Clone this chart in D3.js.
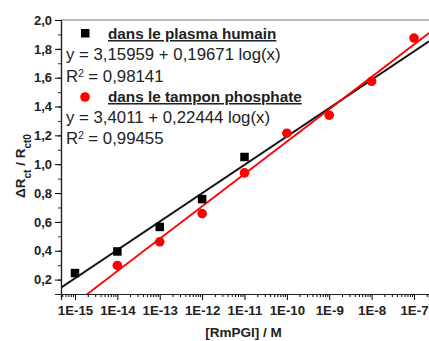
<!DOCTYPE html>
<html><head><meta charset="utf-8">
<script src="https://cdn.jsdelivr.net/npm/d3@7"></script>
<style>
html,body{margin:0;padding:0;background:#fff;overflow:hidden}
text{font-family:Arial,"Liberation Sans",sans-serif}
</style></head>
<body><svg id="c" width="429" height="341"></svg>
<script>
const concentrations = [1e-15,1e-14,1e-13,1e-12,1e-11,1e-10,1e-9,1e-8,1e-7];
const plasmaConc = [1e-15,1e-14,1e-13,1e-12,1e-11];
const plasmaValues = [0.245,0.395,0.565,0.758,1.05];
const phosphateConc = [1e-14,1e-13,1e-12,1e-11,1e-10,1e-9,1e-8,1e-7];
const phosphateValues = [0.298,0.462,0.658,0.94,1.215,1.34,1.575,1.875];
const plasmaFit = {a:3.15959, b:0.19671};
const phosphateFit = {a:3.4011, b:0.22444};
const yTicks = [0.2,0.4,0.6,0.8,1.0,1.2,1.4,1.6,1.8,2.0];
const xTickLabels = ["1E-15","1E-14","1E-13","1E-12","1E-11","1E-10","1E-9","1E-8","1E-7"];
const legendLabels = ["dans le plasma humain","y = 3,15959 + 0,19671 log(x)","0,98141",
                      "dans le tampon phosphate","y = 3,4011 + 0,22444 log(x)","0,99455"];

const svg = d3.select("#c");
const L=61, R=429, T=20, B=294;
const x = d3.scaleLog().domain([Math.pow(10,-15.33), Math.pow(10,-6.646)]).range([L,R]);
const y = d3.scaleLinear().domain([0.1,2.0]).range([B,T]);

svg.append("clipPath").attr("id","pc").append("rect")
  .attr("x",L).attr("y",T).attr("width",R-L).attr("height",B-T);

// frame top
svg.append("line").attr("x1",L).attr("x2",R).attr("y1",T).attr("y2",T)
  .attr("stroke","#777").attr("stroke-width",1.2);

// y axis
const yMinor = d3.range(1,20).map(i=>i/10);
const ya = svg.append("g").attr("transform",`translate(${L},0)`);
ya.call(d3.axisLeft(y).tickValues(yMinor).tickSize(3).tickFormat(""));
ya.call(g=>g.selectAll(".tick line").attr("stroke","#333"));
const yb = svg.append("g").attr("transform",`translate(${L},0)`);
yb.call(d3.axisLeft(y).tickValues(yTicks).tickSize(6).tickPadding(3)
  .tickFormat(d=>d3.format(".1f")(d).replace(".",",")));
yb.selectAll("text").attr("font-size",13).attr("font-weight","bold").attr("fill","#222");

// x axis
const xMinor=[];
for(let e=-16;e<=-7;e++) for(let k=2;k<=9;k++){const v=k*Math.pow(10,e); if(v>x.domain()[0]&&v<x.domain()[1]) xMinor.push(v);}
const xa = svg.append("g").attr("transform",`translate(0,${B})`);
xa.call(d3.axisBottom(x).tickValues(xMinor).tickSize(3).tickFormat(""));
const xb = svg.append("g").attr("transform",`translate(0,${B})`);
xb.call(d3.axisBottom(x).tickValues(concentrations).tickSize(6).tickPadding(6)
  .tickFormat((d,i)=>xTickLabels[i]));
xb.selectAll("text").attr("font-size",13.3).attr("font-weight","bold").attr("fill","#222");
svg.selectAll(".domain").attr("stroke","#222").attr("stroke-width",1.2);

// axis titles
svg.append("text").attr("x",243.5).attr("y",337).attr("text-anchor","middle")
  .attr("font-size",13.5).attr("font-weight","bold").attr("fill","#222").text("[RmPGI] / M");
const yt = svg.append("text").attr("transform","translate(25,166) rotate(-90)")
  .attr("text-anchor","middle").attr("font-size",13.5).attr("font-weight","bold").attr("fill","#222");
yt.append("tspan").text("ΔR");
yt.append("tspan").attr("baseline-shift","sub").attr("font-size",10).text("ct");
yt.append("tspan").text(" / R");
yt.append("tspan").attr("baseline-shift","sub").attr("font-size",10).text("ct0");

// fit lines
const pg = svg.append("g").attr("clip-path","url(#pc)");
function fitLine(f,color){
  const xs=[x.domain()[0], x.domain()[1]];
  pg.append("line").attr("x1",x(xs[0])).attr("y1",y(f.a+f.b*Math.log10(xs[0])))
    .attr("x2",x(xs[1])).attr("y2",y(f.a+f.b*Math.log10(xs[1])))
    .attr("stroke",color).attr("stroke-width",1.8);
}
fitLine(plasmaFit,"#111");
fitLine(phosphateFit,"#ff0000");

// markers
const s=8.5;
svg.append("g").selectAll("rect").data(plasmaConc).join("rect")
  .attr("x",(d)=>x(d)-s/2).attr("y",(d,i)=>y(plasmaValues[i])-s/2)
  .attr("width",s).attr("height",s).attr("fill","#000");
svg.append("g").selectAll("circle").data(phosphateConc).join("circle")
  .attr("cx",d=>x(d)).attr("cy",(d,i)=>y(phosphateValues[i])).attr("r",4.8).attr("fill","#ff0000");

// legend
const lg = svg.append("g");
const fs=16.8, fb=15.3;
lg.append("rect").attr("x",81).attr("y",29).attr("width",s).attr("height",s).attr("fill","#000");
lg.append("text").attr("x",108).attr("y",39).attr("font-size",fb).attr("font-weight","bold")
  .attr("text-decoration","underline").attr("fill","#222").text(legendLabels[0]);
lg.append("text").attr("x",66).attr("y",60).attr("font-size",fs).attr("fill","#222").text(legendLabels[1]);
const r1 = lg.append("text").attr("x",66).attr("y",82).attr("font-size",fs).attr("fill","#222");
r1.append("tspan").text("R");
r1.append("tspan").attr("baseline-shift","super").attr("font-size",10).text("2");
r1.append("tspan").text(" = "+legendLabels[2]);
lg.append("circle").attr("cx",85).attr("cy",97).attr("r",4.8).attr("fill","#ff0000");
lg.append("text").attr("x",108).attr("y",102).attr("font-size",fb).attr("font-weight","bold")
  .attr("text-decoration","underline").attr("fill","#222").text(legendLabels[3]);
lg.append("text").attr("x",66).attr("y",123).attr("font-size",fs).attr("fill","#222").text(legendLabels[4]);
const r2 = lg.append("text").attr("x",66).attr("y",144).attr("font-size",fs).attr("fill","#222");
r2.append("tspan").text("R");
r2.append("tspan").attr("baseline-shift","super").attr("font-size",10).text("2");
r2.append("tspan").text(" = "+legendLabels[5]);
</script></body></html>
